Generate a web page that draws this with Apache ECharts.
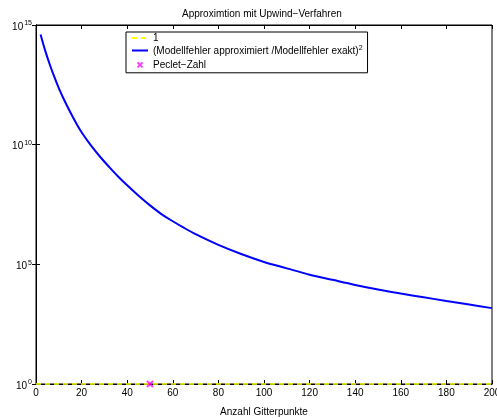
<!DOCTYPE html>
<html>
<head>
<meta charset="utf-8">
<script src="https://cdn.jsdelivr.net/npm/echarts@6/dist/echarts.min.js"></script>
<style>
html,body{margin:0;padding:0;background:#fff;}
#c{width:497px;height:418px;}
</style>
</head>
<body>
<div id="c"></div>
<script>
// ---- data ----
const titleText = 'Approximtion mit Upwind\u2212Verfahren';
const xAxisName = 'Anzahl Gitterpunkte';
const seriesNames = ['1', '(Modellfehler approximiert /Modellfehler exakt)', 'Peclet\u2212Zahl'];
const gridPts = [2, 4, 6, 8, 10, 12, 15, 18, 20, 24, 28, 32, 36, 40, 45, 50, 55, 60, 65, 70,
                 80, 90, 100, 110, 120, 130, 140, 150, 160, 170, 180, 190, 200];
const errRatio = [4.0e14, 8.7e13, 2.3e13, 6.9e12, 2.3e12, 8.7e11, 2.3e11, 6.8e10, 3.3e10, 9.5e9,
                  3.2e9, 1.2e9, 4.7e8, 2.0e8, 7.3e7, 2.9e7, 1.26e7, 6.3e6, 3.3e6, 1.82e6,
                  6.5e5, 2.7e5, 1.26e5, 6.8e4, 3.7e4, 2.25e4, 1.38e4, 8.9e3, 6.0e3, 4.2e3,
                  2.95e3, 2.1e3, 1.48e3];
const refX = [0, 200];
const refY = [1, 1];
const pecletX = [50];
const pecletY = [1];
const xTicks = [0, 20, 40, 60, 80, 100, 120, 140, 160, 180, 200];

const FONT = "'Liberation Sans', Arial, Helvetica, sans-serif";
const zip = (a, b) => a.map((v, i) => [v, b[i]]);

const chart = echarts.init(document.getElementById('c'), null, {renderer: 'canvas'});

const yLabel = {
  color: '#000', fontFamily: FONT, fontSize: 10, margin: 4,
  formatter: v => '{b|10}{s|' + Math.round(Math.log10(v)) + '}',
  rich: {
    b: {fontSize: 10, fontFamily: FONT, color: '#000', verticalAlign: 'bottom', lineHeight: 14},
    s: {fontSize: 7, fontFamily: FONT, color: '#000', verticalAlign: 'bottom', lineHeight: 14, padding: [0, 0, 5, 1]}
  }
};

const hiddenSym = {color: 'rgba(0,0,0,0)', borderColor: 'rgba(0,0,0,0)', borderWidth: 0, opacity: 0};

const option = {
  animation: false,
  backgroundColor: '#fff',
  title: {
    text: titleText, left: 182, top: 9, padding: 0,
    textStyle: {fontFamily: FONT, fontSize: 10, fontWeight: 'normal', color: '#000'}
  },
  legend: {
    orient: 'vertical', left: 126, top: 32,
    padding: [1, 5, 1, 5], itemGap: 1.5, itemWidth: 16, itemHeight: 12,
    backgroundColor: '#fff', borderColor: '#000', borderWidth: 1,
    textStyle: {
      fontFamily: FONT, fontSize: 10, color: '#000',
      rich: {
        t: {fontFamily: FONT, fontSize: 10, color: '#000', verticalAlign: 'bottom', lineHeight: 12},
        s: {fontFamily: FONT, fontSize: 7, color: '#000', verticalAlign: 'bottom', lineHeight: 12, padding: [0, 0, 5, 0]}
      }
    },
    formatter: name => name === seriesNames[1] ? '{t|' + name + '}{s|2}' : name,
    data: [
      {name: seriesNames[0], itemStyle: hiddenSym},
      {name: seriesNames[1], itemStyle: hiddenSym},
      {name: seriesNames[2], icon: 'path://M0,0M12.8,9.6M4.4,2.8L8.4,6.8M8.4,2.8L4.4,6.8',
       itemStyle: {color: '#ff00ff', borderColor: '#ff00ff', borderWidth: 1.8}}
    ]
  },
  grid: {left: 36, right: 5, top: 25, bottom: 34, containLabel: false, outerBoundsMode: 'none',
         show: true, borderColor: '#000', borderWidth: 1, backgroundColor: 'transparent'},
  xAxis: [{
    type: 'value', min: 0, max: 200, interval: 20,
    name: xAxisName, nameLocation: 'middle', nameGap: 23,
    nameTextStyle: {fontFamily: FONT, fontSize: 10, color: '#000'},
    axisLine: {show: true, lineStyle: {color: '#000', width: 1}},
    axisTick: {show: true, inside: true, length: 4, lineStyle: {color: '#000'}},
    axisLabel: {color: '#000', fontFamily: FONT, fontSize: 10, margin: 4, customValues: xTicks},
    splitLine: {show: false}
  }, {
    type: 'value', min: 0, max: 200, interval: 20, position: 'top',
    axisLine: {show: true, lineStyle: {color: '#000', width: 1}},
    axisTick: {show: true, inside: true, length: 4, lineStyle: {color: '#000'}},
    axisLabel: {show: false}, splitLine: {show: false}
  }],
  yAxis: [{
    type: 'log', logBase: 10, min: 1, max: 1e15, interval: 5,
    axisLine: {show: true, lineStyle: {color: '#000', width: 1}},
    axisTick: {show: true, inside: true, length: 4, lineStyle: {color: '#000'}},
    minorTick: {show: false},
    axisLabel: yLabel,
    splitLine: {show: false}
  }, {
    type: 'log', logBase: 10, min: 1, max: 1e15, interval: 5, position: 'right',
    axisLine: {show: true, lineStyle: {color: '#000', width: 1}},
    axisTick: {show: true, inside: true, length: 4, lineStyle: {color: '#000'}},
    axisLabel: {show: false}, splitLine: {show: false}
  }],
  series: [
    {
      name: seriesNames[0], type: 'line', data: zip(refX, refY),
      symbol: 'none', clip: false, z: 4,
      lineStyle: {color: '#ffff00', width: 1.5, type: [5, 4]},
      itemStyle: {color: '#ffff00'}
    },
    {
      name: seriesNames[1], type: 'line', data: zip(gridPts, errRatio),
      symbol: 'none', smooth: 0.35, z: 3,
      lineStyle: {color: '#0000ff', width: 2},
      itemStyle: {color: '#0000ff'}
    },
    {
      name: seriesNames[2], type: 'scatter', data: zip(pecletX, pecletY),
      symbol: 'path://M0,0L10,10M10,0L0,10', symbolSize: 6, clip: false, z: 5,
      itemStyle: {color: '#ff00ff', borderColor: '#ff00ff', borderWidth: 1.8}
    }
  ]
};
chart.setOption(option);
</script>
</body>
</html>
